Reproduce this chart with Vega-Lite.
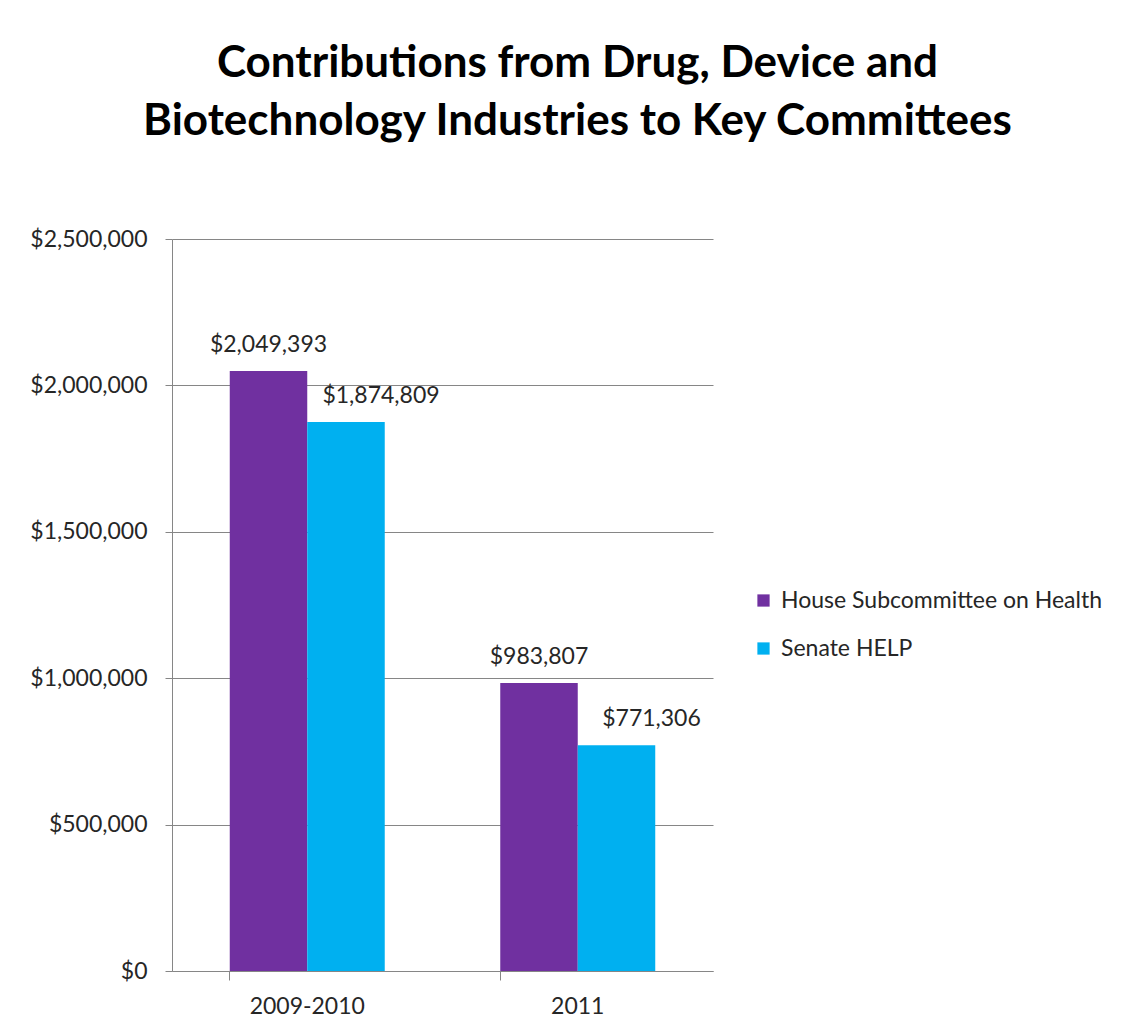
{
  "$schema": "https://vega.github.io/schema/vega-lite/v6.json",
  "autosize": {"type": "none"},
  "width": 541,
  "height": 732,
  "padding": {"left": 172, "top": 239, "right": 424, "bottom": 60},
  "background": "white",
  "title": {
    "text": ["Contributions from Drug, Device and", "Biotechnology Industries to Key Committees"],
    "font": "Lato",
    "fontSize": 44,
    "fontWeight": "bold",
    "color": "black",
    "anchor": "middle",
    "dx": 135,
    "offset": 84,
    "lineHeight": 58
  },
  "data": {
    "values": [
      {"period": "2009-2010", "committee": "House Subcommittee on Health", "amount": 2049393},
      {"period": "2009-2010", "committee": "Senate HELP", "amount": 1874809},
      {"period": "2011", "committee": "House Subcommittee on Health", "amount": 983807},
      {"period": "2011", "committee": "Senate HELP", "amount": 771306}
    ]
  },
  "encoding": {
    "x": {
      "field": "period", "type": "nominal", "title": null,
      "scale": {"paddingInner": 0.427, "paddingOuter": 0.2135},
      "axis": {
        "labelAngle": 0, "bandPosition": 0, "domainColor": "#868686", "tickColor": "#868686",
        "tickSize": 9, "labelPadding": 15, "labelFont": "Lato", "labelFontSize": 23,
        "labelColor": "#262626", "grid": false
      }
    },
    "xOffset": {"field": "committee", "type": "nominal", "scale": {"paddingInner": 0, "paddingOuter": 0}},
    "y": {
      "field": "amount", "type": "quantitative", "title": null,
      "scale": {"domain": [0, 2500000], "nice": false},
      "axis": {
        "values": [0, 500000, 1000000, 1500000, 2000000, 2500000],
        "format": "$,.0f", "domainColor": "#868686", "tickColor": "#868686", "tickSize": 7,
        "gridColor": "#868686", "labelPadding": 18, "labelFont": "Lato", "labelFontSize": 23,
        "labelColor": "#262626"
      }
    }
  },
  "layer": [
    {
      "mark": {"type": "bar"},
      "encoding": {
        "color": {
          "field": "committee", "type": "nominal",
          "scale": {"domain": ["House Subcommittee on Health", "Senate HELP"], "range": ["#7030A0", "#00B0F0"]},
          "legend": {
            "title": null, "orient": "none", "legendX": 580, "legendY": 350,
            "symbolType": "square", "symbolSize": 150, "symbolStrokeWidth": 0,
            "labelFont": "Lato", "labelFontSize": 23, "labelColor": "#262626", "labelLimit": 500,
            "rowPadding": 24, "labelOffset": 6
          }
        }
      }
    },
    {
      "transform": [{"filter": "datum.committee === 'House Subcommittee on Health'"}],
      "mark": {"type": "text", "dy": -19, "baseline": "alphabetic", "font": "Lato", "fontSize": 23, "color": "#262626"},
      "encoding": {
        "text": {"field": "amount", "type": "quantitative", "format": "$,.0f"}
      }
    },
    {
      "transform": [{"filter": "datum.committee === 'Senate HELP'"}],
      "mark": {"type": "text", "dy": -19, "dx": 35, "baseline": "alphabetic", "font": "Lato", "fontSize": 23, "color": "#262626"},
      "encoding": {
        "text": {"field": "amount", "type": "quantitative", "format": "$,.0f"}
      }
    }
  ],
  "config": {"view": {"stroke": null}}
}
